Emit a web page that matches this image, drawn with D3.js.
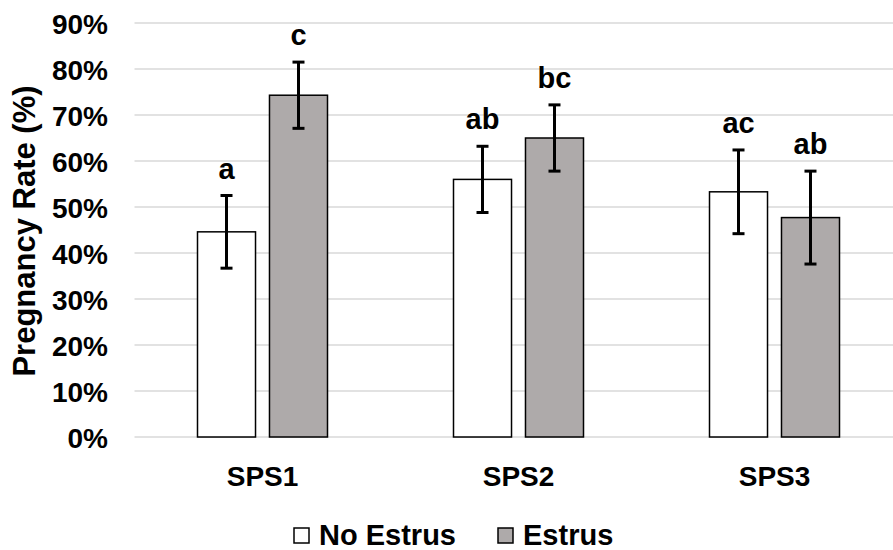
<!DOCTYPE html>
<html>
<head>
<meta charset="utf-8">
<script src="https://cdn.jsdelivr.net/npm/d3@7"></script>
<style>
  html, body { margin: 0; padding: 0; background: #fff; }
  svg { display: block; }
  text { font-family: "Liberation Sans", Arial, sans-serif; font-weight: bold; fill: #000; }
</style>
</head>
<body>
<svg id="chart" width="893" height="550"></svg>
<script>
const categories = ["SPS1", "SPS2", "SPS3"];
const seriesNames = ["No Estrus", "Estrus"];
const noEstrus = [0.446, 0.560, 0.533];
const estrus = [0.743, 0.650, 0.477];
const noEstrusErr = [0.079, 0.072, 0.091];
const estrusErr = [0.072, 0.072, 0.101];
const noEstrusLabels = ["a", "ab", "ac"];
const estrusLabels = ["c", "bc", "ab"];
const yTicks = [0, 0.1, 0.2, 0.3, 0.4, 0.5, 0.6, 0.7, 0.8, 0.9];
const seriesColors = ["#FFFFFF", "#AEAAAA"];

const svg = d3.select("#chart");
const W = 893, H = 550;
const plotLeft = 134.5, plotRight = 902.5, plotTop = 23, plotBottom = 437;

const x0 = d3.scaleBand().domain(categories).range([plotLeft, plotRight]).padding(0);
const groupW = 130;
const x1 = d3.scaleBand().domain(seriesNames)
  .range([(x0.step() - groupW) / 2, (x0.step() + groupW) / 2])
  .paddingInner(0.194).paddingOuter(0);
const y = d3.scaleLinear().domain([0, 0.9]).range([plotBottom, plotTop]);

// gridlines
svg.append("g").selectAll("line").data(yTicks).join("line")
  .attr("x1", plotLeft).attr("x2", W)
  .attr("y1", d => y(d)).attr("y2", d => y(d))
  .attr("stroke", "#D9D9D9").attr("stroke-width", 1.5);

// y axis tick labels
const yAxis = d3.axisLeft(y).tickValues(yTicks).tickFormat(d3.format(".0%")).tickSize(0).tickPadding(0);
const gy = svg.append("g").attr("transform", "translate(108,0)").call(yAxis);
gy.select(".domain").remove();
gy.selectAll("text").attr("font-size", 28).attr("dy", "0.36em")
  .style("font-family", '"Liberation Sans", Arial, sans-serif').style("font-weight", "bold").attr("fill", "#000");

// x axis labels
const xAxis = d3.axisBottom(x0).tickSize(0).tickPadding(0);
const gx = svg.append("g").attr("transform", "translate(0,486)").call(xAxis);
gx.select(".domain").remove();
gx.selectAll("text").attr("font-size", 28).attr("dy", 0).attr("y", 0)
  .style("font-family", '"Liberation Sans", Arial, sans-serif').style("font-weight", "bold").attr("fill", "#000");

// data rows
const rows = categories.map((c, i) => ({
  cat: c,
  vals: [
    { s: seriesNames[0], v: noEstrus[i], e: noEstrusErr[i], lab: noEstrusLabels[i], col: seriesColors[0] },
    { s: seriesNames[1], v: estrus[i], e: estrusErr[i], lab: estrusLabels[i], col: seriesColors[1] }
  ]
}));

const groups = svg.append("g").selectAll("g").data(rows).join("g")
  .attr("transform", d => `translate(${x0(d.cat)},0)`);

groups.selectAll("rect").data(d => d.vals).join("rect")
  .attr("x", d => x1(d.s))
  .attr("y", d => y(d.v))
  .attr("width", x1.bandwidth())
  .attr("height", d => y(0) - y(d.v))
  .attr("fill", d => d.col)
  .attr("stroke", "#000").attr("stroke-width", 1.5);

// error bars
const cap = 6;
const eb = groups.selectAll("g.err").data(d => d.vals).join("g").attr("class", "err");
eb.append("line")
  .attr("x1", d => x1(d.s) + x1.bandwidth() / 2).attr("x2", d => x1(d.s) + x1.bandwidth() / 2)
  .attr("y1", d => y(d.v + d.e)).attr("y2", d => y(d.v - d.e))
  .attr("stroke", "#000").attr("stroke-width", 3);
eb.append("line")
  .attr("x1", d => x1(d.s) + x1.bandwidth() / 2 - cap).attr("x2", d => x1(d.s) + x1.bandwidth() / 2 + cap)
  .attr("y1", d => y(d.v + d.e)).attr("y2", d => y(d.v + d.e))
  .attr("stroke", "#000").attr("stroke-width", 3);
eb.append("line")
  .attr("x1", d => x1(d.s) + x1.bandwidth() / 2 - cap).attr("x2", d => x1(d.s) + x1.bandwidth() / 2 + cap)
  .attr("y1", d => y(d.v - d.e)).attr("y2", d => y(d.v - d.e))
  .attr("stroke", "#000").attr("stroke-width", 3);

// significance letters
groups.selectAll("text.sig").data(d => d.vals).join("text").attr("class", "sig")
  .attr("x", d => x1(d.s) + x1.bandwidth() / 2)
  .attr("y", d => y(d.v + d.e) - 17)
  .attr("text-anchor", "middle").attr("font-size", 29)
  .text(d => d.lab);

// y title
svg.append("text")
  .attr("transform", "translate(35,231) rotate(-90)")
  .attr("text-anchor", "middle").attr("font-size", 31)
  .text("Pregnancy Rate (%)");

// legend
const legX = [294, 498];
const leg = svg.append("g").selectAll("g").data(seriesNames).join("g")
  .attr("transform", (d, i) => `translate(${legX[i]},0)`);
leg.append("rect").attr("x", 0).attr("y", 528).attr("width", 15).attr("height", 15)
  .attr("fill", (d, i) => seriesColors[i]).attr("stroke", "#000").attr("stroke-width", 1.5);
leg.append("text").attr("x", 25).attr("y", 545).attr("font-size", 29).text(d => d);
</script>
</body>
</html>
